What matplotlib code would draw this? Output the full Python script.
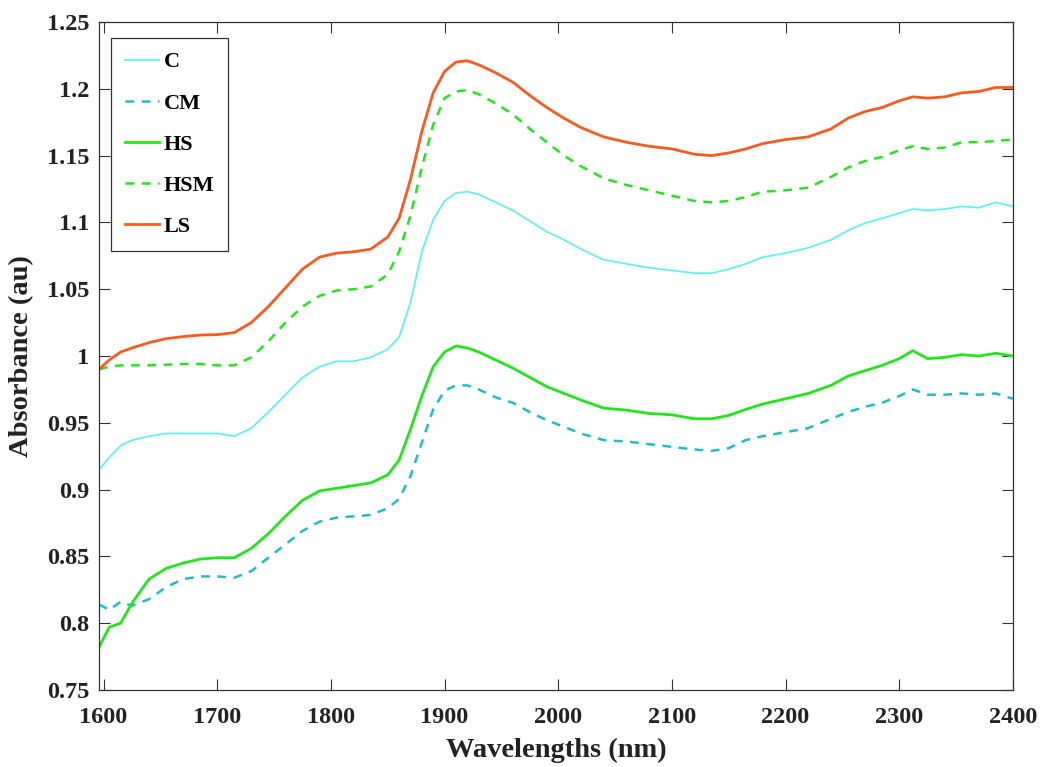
import matplotlib
matplotlib.use("Agg")
import matplotlib.pyplot as plt

plt.rcParams['font.family'] = ['Liberation Serif', 'DejaVu Serif']
plt.rcParams['font.weight'] = 'bold'

# wavelength grid (nm) and absorbance
wavelengths = [1596, 1605, 1615, 1625, 1640, 1655, 1670, 1685, 1700, 1715,
               1730, 1745, 1760, 1775, 1790, 1805, 1820, 1835, 1850, 1860,
               1870, 1880, 1890, 1900, 1910, 1920, 1930, 1945, 1960, 1975,
               1990, 2005, 2020, 2040, 2060, 2080, 2100, 2120, 2135, 2150,
               2165, 2180, 2200, 2220, 2240, 2255, 2270, 2285, 2300, 2312,
               2325, 2340, 2355, 2370, 2385, 2400]

ls = [0.990, 0.997, 1.003, 1.006, 1.010, 1.013, 1.0145, 1.0157, 1.016, 1.0175,
      1.025, 1.037, 1.051, 1.065, 1.074, 1.077, 1.078, 1.080, 1.089, 1.103,
      1.132, 1.168, 1.197, 1.213, 1.220, 1.221, 1.218, 1.212, 1.205, 1.195,
      1.186, 1.178, 1.171, 1.164, 1.160, 1.157, 1.155, 1.151, 1.150, 1.152,
      1.155, 1.159, 1.162, 1.164, 1.170, 1.178, 1.183, 1.186, 1.191, 1.194,
      1.193, 1.194, 1.197, 1.198, 1.201, 1.201]

hsm = [0.990, 0.992, 0.993, 0.993, 0.993, 0.9935, 0.994, 0.994, 0.993, 0.993,
       0.999, 1.011, 1.025, 1.037, 1.045, 1.049, 1.050, 1.052, 1.061, 1.078,
       1.105, 1.141, 1.173, 1.193, 1.198, 1.199, 1.196, 1.189, 1.181, 1.170,
       1.160, 1.150, 1.142, 1.133, 1.128, 1.124, 1.120, 1.116, 1.115, 1.116,
       1.119, 1.123, 1.124, 1.126, 1.134, 1.141, 1.146, 1.149, 1.154, 1.157,
       1.155, 1.156, 1.160, 1.160, 1.161, 1.162]

c = [0.915, 0.924, 0.933, 0.937, 0.940, 0.942, 0.942, 0.942, 0.942, 0.940,
     0.946, 0.958, 0.971, 0.984, 0.992, 0.996, 0.996, 0.999, 1.005, 1.014,
     1.040, 1.078, 1.102, 1.116, 1.122, 1.123, 1.121, 1.115, 1.109, 1.101,
     1.093, 1.087, 1.080, 1.072, 1.069, 1.066, 1.064, 1.062, 1.062, 1.065,
     1.069, 1.074, 1.077, 1.081, 1.087, 1.094, 1.0995, 1.103, 1.107, 1.110,
     1.109, 1.110, 1.112, 1.111, 1.115, 1.112]

hs = [0.782, 0.797, 0.800, 0.815, 0.833, 0.841, 0.845, 0.848, 0.849, 0.849,
      0.856, 0.867, 0.880, 0.892, 0.899, 0.901, 0.903, 0.905, 0.911, 0.922,
      0.945, 0.970, 0.992, 1.003, 1.0075, 1.006, 1.003, 0.997, 0.991, 0.984,
      0.977, 0.972, 0.967, 0.961, 0.9595, 0.957, 0.956, 0.953, 0.953, 0.9555,
      0.960, 0.964, 0.968, 0.972, 0.978, 0.985, 0.989, 0.993, 0.998, 1.004,
      0.998, 0.999, 1.001, 1.000, 1.002, 1.000]

cm = [0.814, 0.810, 0.816, 0.813, 0.818, 0.827, 0.833, 0.835, 0.835, 0.834,
      0.839, 0.849, 0.859, 0.869, 0.876, 0.879, 0.880, 0.881, 0.886, 0.893,
      0.910, 0.935, 0.960, 0.974, 0.978, 0.978, 0.975, 0.969, 0.965, 0.958,
      0.952, 0.947, 0.942, 0.937, 0.936, 0.934, 0.932, 0.930, 0.929, 0.931,
      0.937, 0.940, 0.943, 0.946, 0.953, 0.958, 0.962, 0.965, 0.970, 0.975,
      0.971, 0.971, 0.972, 0.971, 0.972, 0.968]

xtick_vals = [1600, 1700, 1800, 1900, 2000, 2100, 2200, 2300, 2400]
ytick_vals = [0.75, 0.8, 0.85, 0.9, 0.95, 1.0, 1.05, 1.1, 1.15, 1.2, 1.25]
ytick_labels = ['0.75', '0.8', '0.85', '0.9', '0.95', '1', '1.05', '1.1', '1.15', '1.2', '1.25']

fig = plt.figure(figsize=(10.42, 7.67), dpi=100)
ax = fig.add_axes([0.095, 0.1004, 0.877, 0.8709])

ax.plot(wavelengths, c, color='#55f2f7', lw=1.2, label='C')
ax.plot(wavelengths, cm, color='#1cbfc6', lw=1.8, ls=(0, (3.5, 3)), label='CM')
ax.plot(wavelengths, hs, color='#22e61c', lw=2.0, label='HS')
ax.plot(wavelengths, hsm, color='#22e61c', lw=1.8, ls=(0, (3.5, 3)), label='HSM')
ax.plot(wavelengths, ls, color='#fb5a1e', lw=2.0, label='LS')

ax.set_xlim(1596, 2400)
ax.set_ylim(0.75, 1.25)
ax.set_xticks(xtick_vals)
ax.set_yticks(ytick_vals)
ax.set_yticklabels(ytick_labels)
ax.tick_params(direction='in', top=True, right=True, length=8, width=0.8,
               labelsize=17.5, colors='#333333', labelcolor='#222222')
ax.tick_params(axis='x', pad=12)
ax.tick_params(axis='y', pad=7)
for lab in ax.get_xticklabels() + ax.get_yticklabels():
    lab.set_fontweight('bold')
for sp in ax.spines.values():
    sp.set_color('#333333')
    sp.set_linewidth(0.9)

ax.set_xlabel('Wavelengths (nm)', fontsize=20.5, fontweight='bold', color='#222222', labelpad=7)
ax.set_ylabel('Absorbance (au)', fontsize=20.5, fontweight='bold', color='#222222', labelpad=9)

leg = ax.legend(loc='upper left', bbox_to_anchor=(0.013, 0.976), borderaxespad=0,
                prop={'weight': 'bold', 'size': 16}, handlelength=1.55,
                handletextpad=0.2, labelspacing=0.93, borderpad=0.62,
                fancybox=False, framealpha=1, edgecolor='#333333')
leg.get_frame().set_linewidth(0.9)

fig.savefig('out.png', dpi=100)
